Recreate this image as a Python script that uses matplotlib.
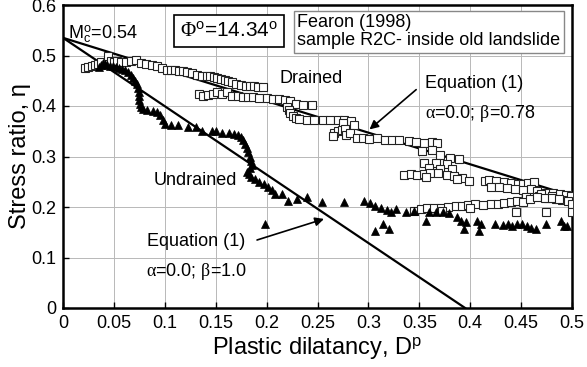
import matplotlib
matplotlib.use("Agg")
import matplotlib.pyplot as plt

plt.rcParams["font.family"] = ["Liberation Sans", "DejaVu Sans"]
plt.rcParams["mathtext.fontset"] = "custom"
plt.rcParams["mathtext.rm"] = "Liberation Sans"
plt.rcParams["mathtext.it"] = "Liberation Serif"
plt.rcParams["mathtext.cal"] = "Liberation Serif"

# drained test (open squares)
drained_d = [0.022, 0.025, 0.028, 0.031, 0.034, 0.037, 0.044, 0.047, 0.050, 0.053, 0.057, 0.062, 0.067,
             0.072, 0.077, 0.082, 0.087, 0.092, 0.097, 0.102, 0.106, 0.110, 0.114, 0.118, 0.122, 0.127,
             0.132, 0.137, 0.141, 0.144, 0.148, 0.151, 0.155, 0.159, 0.162, 0.166, 0.170, 0.175, 0.180,
             0.184, 0.188, 0.192, 0.196,
             0.134, 0.138, 0.142, 0.147, 0.151, 0.156, 0.161, 0.166, 0.172, 0.177, 0.182, 0.187, 0.193,
             0.200, 0.206, 0.212, 0.218, 0.223, 0.229, 0.236, 0.245,
             0.220, 0.222, 0.223, 0.226, 0.229, 0.232, 0.240, 0.247, 0.255, 0.262, 0.270, 0.276, 0.283,
             0.286, 0.275,
             0.266, 0.270, 0.274, 0.277, 0.265, 0.278, 0.282, 0.289, 0.295, 0.301, 0.308, 0.316, 0.323,
             0.330, 0.340, 0.347, 0.355, 0.362, 0.367,
             0.353, 0.362, 0.370, 0.380, 0.389, 0.355, 0.366, 0.377, 0.360, 0.370, 0.382, 0.335, 0.342,
             0.348, 0.355, 0.361, 0.368, 0.377, 0.384, 0.392, 0.399, 0.415, 0.357, 0.387,
             0.418, 0.425, 0.433, 0.440, 0.447, 0.452, 0.457, 0.463, 0.420, 0.428, 0.436, 0.444, 0.452,
             0.460, 0.466, 0.474, 0.481, 0.488, 0.494, 0.499, 0.468, 0.476, 0.484, 0.490, 0.496, 0.500,
             0.455, 0.470, 0.480,
             0.345, 0.352, 0.358, 0.364, 0.371, 0.378, 0.386, 0.392, 0.398, 0.405, 0.413, 0.420, 0.427,
             0.433, 0.440, 0.446, 0.452, 0.459, 0.466, 0.473, 0.480, 0.487, 0.445, 0.474, 0.500, 0.372,
             0.400]
drained_eta = [0.476, 0.478, 0.480, 0.482, 0.484, 0.487, 0.500, 0.489, 0.488, 0.490, 0.488, 0.488, 0.490,
               0.491, 0.486, 0.484, 0.482, 0.480, 0.476, 0.472, 0.472, 0.471, 0.470, 0.470, 0.468, 0.466,
               0.462, 0.460, 0.460, 0.459, 0.457, 0.456, 0.453, 0.451, 0.450, 0.447, 0.444, 0.442, 0.440,
               0.440, 0.440, 0.438, 0.438,
               0.424, 0.420, 0.421, 0.423, 0.428, 0.424, 0.428, 0.420, 0.420, 0.418, 0.418, 0.417, 0.416,
               0.416, 0.413, 0.413, 0.411, 0.410, 0.403, 0.402, 0.402,
               0.398, 0.392, 0.386, 0.380, 0.376, 0.374, 0.373, 0.372, 0.372, 0.372, 0.372, 0.372, 0.370,
               0.362, 0.366,
               0.346, 0.350, 0.352, 0.354, 0.340, 0.342, 0.346, 0.336, 0.337, 0.334, 0.336, 0.332, 0.332,
               0.332, 0.330, 0.328, 0.326, 0.328, 0.326,
               0.310, 0.312, 0.302, 0.298, 0.296, 0.288, 0.288, 0.286, 0.278, 0.276, 0.276, 0.264, 0.266,
               0.264, 0.266, 0.268, 0.268, 0.264, 0.262, 0.258, 0.252, 0.252, 0.260, 0.256,
               0.254, 0.252, 0.250, 0.248, 0.246, 0.246, 0.248, 0.250, 0.240, 0.240, 0.238, 0.236, 0.234,
               0.236, 0.232, 0.228, 0.228, 0.226, 0.224, 0.222, 0.222, 0.218, 0.216, 0.214, 0.212, 0.206,
               0.220, 0.226, 0.222,
               0.192, 0.196, 0.198, 0.198, 0.198, 0.200, 0.202, 0.202, 0.204, 0.205, 0.204, 0.205, 0.206,
               0.208, 0.210, 0.212, 0.210, 0.216, 0.220, 0.218, 0.218, 0.216, 0.190, 0.190, 0.190, 0.192,
               0.198]

# undrained test (filled triangles)
undrained_d = [0.035, 0.037, 0.039, 0.041, 0.043, 0.046, 0.049, 0.052, 0.055, 0.058, 0.061, 0.064, 0.067,
               0.069, 0.071, 0.073, 0.074, 0.075, 0.075, 0.075, 0.076, 0.077, 0.079, 0.083, 0.088, 0.092,
               0.095, 0.098, 0.100, 0.106, 0.113, 0.123, 0.131, 0.137, 0.146, 0.150, 0.156, 0.163, 0.168,
               0.172, 0.175, 0.177, 0.179, 0.181, 0.182, 0.184, 0.185, 0.186, 0.184, 0.181, 0.183, 0.185,
               0.189, 0.193, 0.197, 0.201, 0.205, 0.208, 0.215, 0.221, 0.230, 0.240, 0.254, 0.276, 0.296,
               0.302, 0.306, 0.312, 0.318, 0.322, 0.327, 0.337, 0.345, 0.357, 0.360, 0.366, 0.373, 0.379,
               0.387, 0.391, 0.396, 0.394, 0.407, 0.411, 0.409, 0.424, 0.432, 0.437, 0.441, 0.446, 0.451,
               0.456, 0.460, 0.465, 0.474, 0.489, 0.492, 0.495, 0.198, 0.306, 0.314, 0.320]
undrained_eta = [0.478, 0.482, 0.486, 0.484, 0.482, 0.480, 0.479, 0.477, 0.476, 0.474, 0.471, 0.468, 0.462,
                 0.456, 0.450, 0.443, 0.435, 0.427, 0.419, 0.411, 0.404, 0.398, 0.394, 0.392, 0.390, 0.388,
                 0.382, 0.372, 0.364, 0.362, 0.362, 0.358, 0.358, 0.350, 0.351, 0.350, 0.347, 0.346, 0.345,
                 0.342, 0.338, 0.332, 0.324, 0.316, 0.308, 0.300, 0.292, 0.284, 0.278, 0.270, 0.265, 0.260,
                 0.255, 0.250, 0.245, 0.240, 0.233, 0.226, 0.226, 0.212, 0.216, 0.219, 0.210, 0.210, 0.212,
                 0.208, 0.202, 0.198, 0.194, 0.190, 0.196, 0.190, 0.192, 0.172, 0.190, 0.190, 0.190, 0.188,
                 0.180, 0.172, 0.170, 0.156, 0.172, 0.166, 0.152, 0.166, 0.164, 0.166, 0.162, 0.166, 0.166,
                 0.162, 0.158, 0.156, 0.166, 0.172, 0.162, 0.162, 0.166, 0.152, 0.166, 0.156]

# Equation (1) lines
eq_drained_d = [0.0, 0.5]
eq_drained_eta = [0.535, 0.222]
eq_undrained_d = [0.0, 0.395]
eq_undrained_eta = [0.535, 0.0]

xticks = [0, 0.05, 0.1, 0.15, 0.2, 0.25, 0.3, 0.35, 0.4, 0.45, 0.5]
xticklabels = ["0", "0.05", "0.1", "0.15", "0.2", "0.25", "0.3", "0.35", "0.4", "0.45", "0.5"]
yticks = [0, 0.1, 0.2, 0.3, 0.4, 0.5, 0.6]
yticklabels = ["0", "0.1", "0.2", "0.3", "0.4", "0.5", "0.6"]

fig = plt.figure(figsize=(5.87, 3.67), dpi=100)
ax = fig.add_axes([63/587, 59/367, 509/587, 303/367])

ax.grid(True, color="#b8b8b8", lw=0.7, zorder=0)
ax.plot(eq_drained_d, eq_drained_eta, color="black", lw=1.6, zorder=3)
ax.plot(eq_undrained_d, eq_undrained_eta, color="black", lw=1.6, zorder=3)
ax.plot(drained_d, drained_eta, ls="none", marker="s", ms=5.5, mfc="white", mec="#222222", mew=0.8, zorder=4)
ax.plot(undrained_d, undrained_eta, ls="none", marker="^", ms=6, mfc="black", mec="black", mew=0.5, zorder=5)

ax.set_xlim(0, 0.5)
ax.set_ylim(0, 0.6)
ax.set_xticks(xticks)
ax.set_xticklabels(xticklabels, fontsize=13)
ax.set_yticks(yticks)
ax.set_yticklabels(yticklabels, fontsize=13)
ax.tick_params(direction="in", length=4, width=1.0, pad=5)
for s in ax.spines.values():
    s.set_linewidth(1.8)

ax.set_xlabel(r"Plastic dilatancy, D$^\mathrm{p}$", fontsize=17, labelpad=2)
ax.set_ylabel("Stress ratio, η", fontsize=17, labelpad=0)

ax.text(0.005, 0.543, r"M$_\mathrm{c}^\mathrm{o}$=0.54", fontsize=13, va="center", ha="left", zorder=6)
ax.text(0.163, 0.549, r"$\mathcal{\Phi}^\mathrm{o}$=14.34$^\mathrm{o}$", fontsize=15, va="center", ha="center",
        zorder=6, bbox=dict(boxstyle="square,pad=0.3", fc="white", ec="black", lw=1.2))
ax.text(0.230, 0.547, "Fearon (1998)\nsample R2C- inside old landslide", fontsize=13, va="center", ha="left",
        linespacing=1.05, zorder=6, bbox=dict(boxstyle="square,pad=0.2", fc="white", ec="#888888", lw=1.0))

ax.text(0.244, 0.455, "Drained", fontsize=13, ha="center", va="center", zorder=6)
ax.text(0.130, 0.253, "Undrained", fontsize=13, ha="center", va="center", zorder=6)

ax.text(0.356, 0.444, "Equation (1)", fontsize=13, ha="left", va="center", zorder=6)
ax.text(0.356, 0.386, r"$\alpha$=0.0; $\beta$=0.78", fontsize=13, ha="left", va="center", zorder=6)
ax.annotate("", xy=(0.299, 0.350), xytext=(0.349, 0.436),
            arrowprops=dict(arrowstyle="-|>", color="black", lw=1.2, mutation_scale=13), zorder=6)

ax.text(0.131, 0.131, "Equation (1)", fontsize=13, ha="center", va="center", zorder=6)
ax.text(0.131, 0.073, r"$\alpha$=0.0; $\beta$=1.0", fontsize=13, ha="center", va="center", zorder=6)
ax.annotate("", xy=(0.259, 0.178), xytext=(0.188, 0.133),
            arrowprops=dict(arrowstyle="-|>", color="black", lw=1.2, mutation_scale=13), zorder=6)

fig.savefig("out.png", dpi=100)
